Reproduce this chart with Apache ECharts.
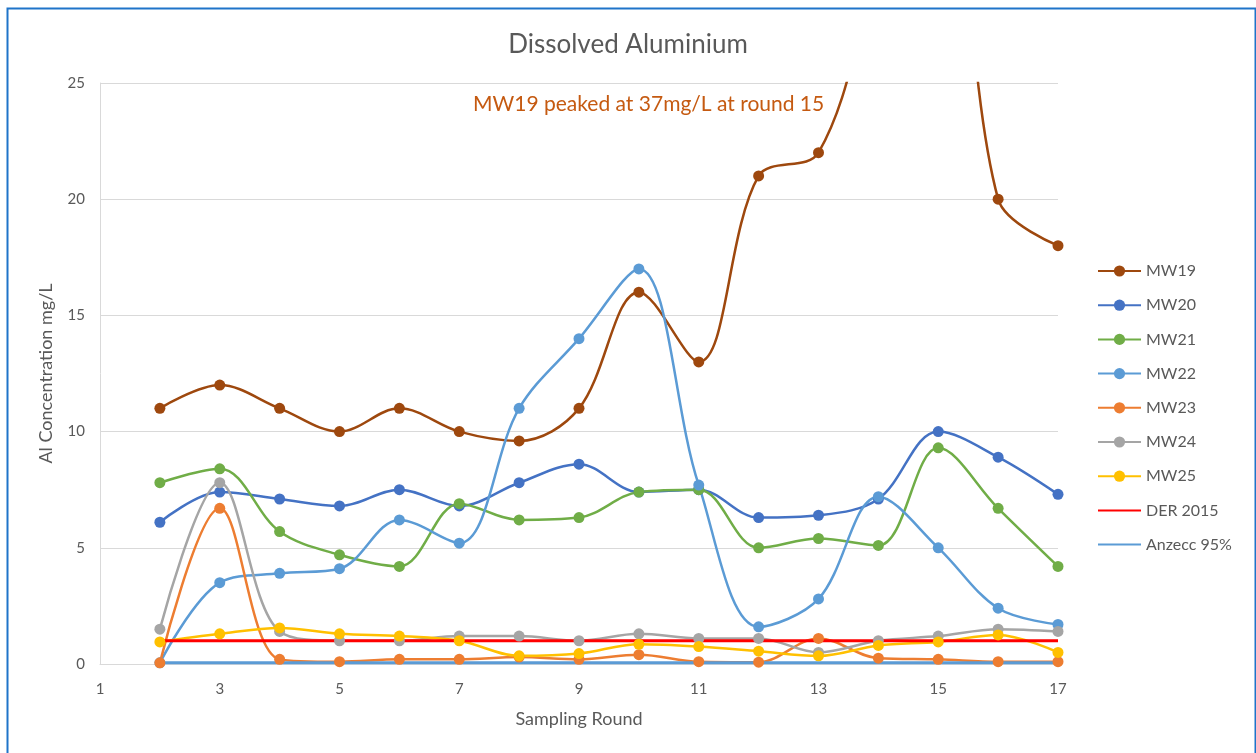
<!DOCTYPE html>
<html>
<head>
<meta charset="utf-8">
<script src="https://cdn.jsdelivr.net/npm/echarts@6/dist/echarts.min.js"></script>
<style>
  html, body { margin: 0; padding: 0; background: #fff; }
  #chart { width: 1256px; height: 753px; }
</style>
</head>
<body>
<div id="chart"></div>
<script>
const rounds = [2, 3, 4, 5, 6, 7, 8, 9, 10, 11, 12, 13, 14, 15, 16, 17];

const mw19 = [11, 12, 11, 10, 11, 10, 9.6, 11, 16, 13, 21, 22, 30, 37, 20, 18];
const mw20 = [6.1, 7.4, 7.1, 6.8, 7.5, 6.8, 7.8, 8.6, 7.4, 7.5, 6.3, 6.4, 7.1, 10, 8.9, 7.3];
const mw21 = [7.8, 8.4, 5.7, 4.7, 4.2, 6.9, 6.2, 6.3, 7.4, 7.5, 5.0, 5.4, 5.1, 9.3, 6.7, 4.2];
const mw22 = [0.05, 3.5, 3.9, 4.1, 6.2, 5.2, 11, 14, 17, 7.7, 1.6, 2.8, 7.2, 5.0, 2.4, 1.7];
const mw23 = [0.05, 6.7, 0.2, 0.1, 0.2, 0.2, 0.3, 0.2, 0.4, 0.1, 0.08, 1.1, 0.25, 0.2, 0.1, 0.1];
const mw24 = [1.5, 7.8, 1.4, 1.0, 1.0, 1.2, 1.2, 1.0, 1.3, 1.1, 1.1, 0.5, 1.0, 1.2, 1.5, 1.4];
const mw25 = [0.95, 1.3, 1.55, 1.3, 1.2, 1.0, 0.35, 0.45, 0.85, 0.75, 0.55, 0.35, 0.8, 0.95, 1.25, 0.5];
const der2015 = rounds.map(() => 1.0);
const anzecc95 = rounds.map(() => 0.055);

const xTicks = [1, 3, 5, 7, 9, 11, 13, 15, 17];

const textColor = '#595959';
const font = 'Lato, "Open Sans", sans-serif';

const pair = vals => rounds.map((r, i) => [r, vals[i]]);

const markerSeries = (name, vals, color) => ({
    name,
    type: 'line',
    data: pair(vals),
    smooth: 0.35,
    symbol: 'circle',
    symbolSize: 11,
    clip: true,
    lineStyle: { color, width: 2.5 },
    itemStyle: { color },
    emphasis: { disabled: true }
});

const plainSeries = (name, vals, color) => ({
    name,
    type: 'line',
    data: pair(vals),
    symbol: 'none',
    showSymbol: false,
    lineStyle: { color, width: 3 },
    itemStyle: { color },
    emphasis: { disabled: true }
});

const chart = echarts.init(document.getElementById('chart'));
const option = {
    animation: false,
    backgroundColor: '#fff',
    textStyle: { fontFamily: font },
    title: {
        text: 'Dissolved Aluminium',
        left: 'center',
        top: 27,
        textStyle: { color: textColor, fontSize: 26, fontWeight: 'normal', fontFamily: font }
    },
    legend: {
        orient: 'vertical',
        left: 1092,
        top: 258,
        itemWidth: 43,
        itemHeight: 14,
        itemGap: 18.2,
        textStyle: { color: textColor, fontSize: 16, fontFamily: font },
        data: [
            'MW19', 'MW20', 'MW21', 'MW22', 'MW23', 'MW24', 'MW25',
            { name: 'DER 2015', itemStyle: { opacity: 0 } },
            { name: 'Anzecc 95%', itemStyle: { opacity: 0 } }
        ]
    },
    grid: { left: 100, right: 198, top: 83, bottom: 89, containLabel: false },
    xAxis: {
        type: 'value',
        min: 1,
        max: 17,
        interval: 2,
        name: 'Sampling Round',
        nameLocation: 'middle',
        nameGap: 46,
        nameTextStyle: { color: textColor, fontSize: 18, fontFamily: font },
        axisLine: { show: true, lineStyle: { color: '#d9d9d9', width: 1 } },
        axisTick: { show: false },
        splitLine: { show: false },
        axisLabel: {
            color: textColor,
            fontSize: 15,
            margin: 18,
            formatter: v => (xTicks.includes(v) ? String(v) : '')
        }
    },
    yAxis: {
        type: 'value',
        min: 0,
        max: 25,
        interval: 5,
        name: 'Al Concentration mg/L',
        nameLocation: 'middle',
        nameRotate: 90,
        nameGap: 45,
        nameTextStyle: { color: textColor, fontSize: 18, fontFamily: font },
        axisLine: { show: true, lineStyle: { color: '#d9d9d9', width: 1 } },
        axisTick: { show: false },
        splitLine: { show: true, lineStyle: { color: '#d9d9d9', width: 1 } },
        axisLabel: { color: textColor, fontSize: 15, margin: 15 }
    },
    graphic: [
        {
            type: 'rect',
            left: 5,
            top: 6,
            shape: { width: 1248, height: 760 },
            style: { fill: 'none', stroke: '#1F74C9', lineWidth: 2 },
            silent: true,
            z: 100
        },
        {
            type: 'text',
            left: 473,
            top: 94,
            style: {
                text: 'MW19 peaked at 37mg/L at round 15',
                fill: '#C55A11',
                font: '21px ' + font
            }
        }
    ],
    series: [
        markerSeries('MW19', mw19, '#9E480E'),
        markerSeries('MW20', mw20, '#4472C4'),
        markerSeries('MW21', mw21, '#70AD47'),
        markerSeries('MW22', mw22, '#5B9BD5'),
        markerSeries('MW23', mw23, '#ED7D31'),
        markerSeries('MW24', mw24, '#A5A5A5'),
        markerSeries('MW25', mw25, '#FFC000'),
        plainSeries('DER 2015', der2015, '#FF0000'),
        plainSeries('Anzecc 95%', anzecc95, '#5B9BD5')
    ]
};
chart.setOption(option);
</script>
</body>
</html>
